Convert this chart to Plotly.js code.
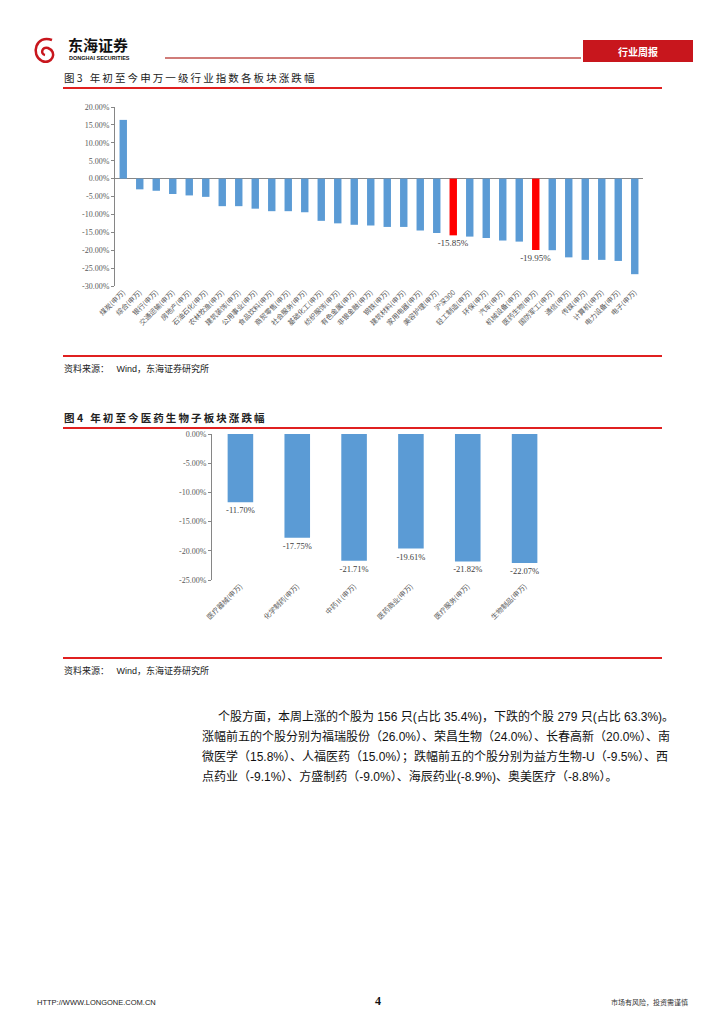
<!DOCTYPE html>
<html>
<head>
<meta charset="utf-8">
<script src="https://cdn.plot.ly/plotly-3.0.1.min.js"></script>
<style>
html,body{margin:0;padding:0;background:#fff;}
#page{width:725px;height:1024px;}
</style>
</head>
<body>
<div id="page"></div>
<script>
// ---------- DATA ----------
const industries = ["煤炭(申万)","综合(申万)","银行(申万)","交通运输(申万)","房地产(申万)","石油石化(申万)","农林牧渔(申万)","建筑装饰(申万)","公用事业(申万)","食品饮料(申万)","商贸零售(申万)","社会服务(申万)","基础化工(申万)","纺织服饰(申万)","有色金属(申万)","非银金融(申万)","钢铁(申万)","建筑材料(申万)","家用电器(申万)","美容护理(申万)","沪深300","轻工制造(申万)","环保(申万)","汽车(申万)","机械设备(申万)","医药生物(申万)","国防军工(申万)","通信(申万)","传媒(申万)","计算机(申万)","电力设备(申万)","电子(申万)"];
const industryChange = [16.4,-3.0,-3.4,-4.3,-4.7,-5.1,-7.7,-7.7,-8.4,-9.1,-9.1,-9.4,-11.8,-12.5,-12.9,-13.1,-13.5,-13.5,-14.5,-15.2,-15.85,-16.2,-16.6,-17.3,-17.6,-19.95,-20.0,-22.0,-22.7,-22.7,-23.0,-26.7];
const highlighted = ["沪深300","医药生物(申万)"];
const fig3Ticks = [20,15,10,5,0,-5,-10,-15,-20,-25,-30];

const pharmaSectors = ["医疗器械(申万)","化学制药(申万)","中药Ⅱ(申万)","医药商业(申万)","医疗服务(申万)","生物制品(申万)"];
const pharmaChange = [-11.70,-17.75,-21.71,-19.61,-21.82,-22.07];
const fig4Ticks = [0,-5,-10,-15,-20,-25];

// ---------- helpers ----------
const W = 725, H = 1024;
const X = px => px / W;
const Y = py => 1 - py / H;
const BLUE = "#5B9BD5", RED = "#FF0000", AX = "#868686", TXT = "#595959";
const CJK = "Noto Sans CJK SC";
const MIX = "Liberation Sans, Noto Sans CJK SC";
const pct = v => v.toFixed(2) + "%";
const spaced = s => s.split("").join("\u2009");

// chart 1 geometry
const y1dom = [Y(286), Y(107)], y1range = [-30, 20];
const zero1 = y1dom[0] + (0 - y1range[0]) / (y1range[1] - y1range[0]) * (y1dom[1] - y1dom[0]);

const traces = [
  {
    type: "bar", x: industries, y: industryChange, xaxis: "x", yaxis: "y",
    marker: {color: industries.map(c => highlighted.includes(c) ? RED : BLUE)},
    text: industries.map((c, i) => highlighted.includes(c) ? pct(industryChange[i]) : ""),
    textposition: "outside", cliponaxis: false, constraintext: "none",
    textfont: {family: "Liberation Serif", size: 9, color: "#404040"},
    hoverinfo: "skip"
  },
  {
    type: "bar", x: pharmaSectors, y: pharmaChange, xaxis: "x2", yaxis: "y2",
    marker: {color: BLUE},
    text: pharmaChange.map(pct),
    textposition: "outside", cliponaxis: false, constraintext: "none",
    textfont: {family: "Liberation Serif", size: 8.5, color: "#404040"},
    hoverinfo: "skip"
  }
];

const shapes = [
  {type:"line", xref:"paper", yref:"paper", x0:X(165), x1:X(581), y0:Y(58), y1:Y(58), line:{color:"#C0504D", width:1.5}},
  {type:"rect", xref:"paper", yref:"paper", x0:X(583), x1:X(693), y0:Y(62), y1:Y(40), fillcolor:"#C8161D", line:{width:0}},
  {type:"path", xref:"paper", yref:"paper",
   path:`M ${X(52)} ${Y(40)} C ${X(36)} ${Y(34)} ${X(30)} ${Y(55)} ${X(42)} ${Y(61)} C ${X(52)} ${Y(65)} ${X(58)} ${Y(52)} ${X(48)} ${Y(48)} C ${X(42)} ${Y(46)} ${X(40)} ${Y(54)} ${X(45)} ${Y(55)}`,
   line:{color:"#C8161D", width:2.5}},
  {type:"line", xref:"paper", yref:"paper", x0:X(63), x1:X(662), y0:Y(88), y1:Y(88), line:{color:"#E02020", width:2}},
  {type:"line", xref:"paper", yref:"paper", x0:X(63), x1:X(662), y0:Y(356), y1:Y(356), line:{color:"#E02020", width:2}},
  {type:"line", xref:"paper", yref:"paper", x0:X(63), x1:X(662), y0:Y(428), y1:Y(428), line:{color:"#E02020", width:2}},
  {type:"line", xref:"paper", yref:"paper", x0:X(63), x1:X(662), y0:Y(658), y1:Y(658), line:{color:"#E02020", width:2}}
];

function ann(text, xpx, ypx, opts) {
  return Object.assign({text, xref:"paper", yref:"paper", x:X(xpx), y:Y(ypx), showarrow:false,
    xanchor:"left", yanchor:"middle", font:{family:CJK, size:10, color:"#000"}}, opts || {});
}

const annotations = [
  ann("<b>东海证券</b>", 66, 44, {font:{family:CJK, size:15, color:"#111"}}),
  ann("<b>DONGHAI SECURITIES</b>", 67, 57.5, {font:{family:"Liberation Sans", size:5.5, color:"#111"}}),
  ann("<b>行业周报</b>", 638, 51, {xanchor:"center", font:{family:CJK, size:10, color:"#fff"}}),
  ann("图 3\u00a0\u00a0\u00a0" + spaced("年初至今申万一级行业指数各板块涨跌幅"), 62, 77, {font:{family:CJK, size:10.5, color:"#222"}}),
  ann("资料来源：\u00a0\u00a0\u00a0Wind，东海证券研究所", 62, 368, {font:{family:MIX, size:9, color:"#222"}}),
  ann("<b>图 4\u00a0\u00a0\u00a0" + spaced("年初至今医药生物子板块涨跌幅") + "</b>", 62, 417, {font:{family:CJK, size:10.5, color:"#222"}}),
  ann("资料来源：\u00a0\u00a0\u00a0Wind，东海证券研究所", 62, 670, {font:{family:MIX, size:9, color:"#222"}}),
  ann("个股方面，本周上涨的个股为 156 只(占比 35.4%)，下跌的个股 279 只(占比 63.3%)。", 216, 716, {font:{family:MIX, size:12, color:"#111"}}),
  ann("涨幅前五的个股分别为福瑞股份（26.0%）、荣昌生物（24.0%）、长春高新（20.0%）、南", 200, 736, {font:{family:MIX, size:12, color:"#111"}}),
  ann("微医学（15.8%）、人福医药（15.0%）；跌幅前五的个股分别为益方生物-U（-9.5%）、西", 200, 756, {font:{family:MIX, size:12, color:"#111"}}),
  ann("点药业（-9.1%）、方盛制药（-9.0%）、海辰药业(-8.9%)、奥美医疗（-8.8%）。", 200, 776, {font:{family:MIX, size:12, color:"#111"}}),
  ann("HTTP://WWW.LONGONE.COM.CN", 35, 1002, {font:{family:"Liberation Sans", size:7.5, color:"#222"}}),
  ann("<b>4</b>", 378, 1001, {xanchor:"center", font:{family:"Liberation Serif", size:12, color:"#111"}}),
  ann("市场有风险，投资需谨慎", 690, 1002, {xanchor:"right", font:{family:CJK, size:7, color:"#333"}})
];

const layout = {
  width: W, height: H,
  margin: {l:0, r:0, t:0, b:0},
  paper_bgcolor: "#fff", plot_bgcolor: "rgba(0,0,0,0)",
  showlegend: false,
  bargap: 0.55,
  xaxis: {domain:[X(115), X(643)], anchor:"y", type:"category", categoryarray: industries,
    tickangle:-45, ticks:"", showline:false, showgrid:false, zeroline:false, automargin:false,
    tickfont:{family:CJK, size:7, color:TXT}},
  yaxis: {domain:y1dom, anchor:"x", range:y1range, tickvals:fig3Ticks, ticktext:fig3Ticks.map(pct),
    showline:true, linecolor:AX, linewidth:1, ticks:"outside", ticklen:3, tickcolor:AX,
    showgrid:false, zeroline:true, zerolinecolor:AX, zerolinewidth:1, automargin:false,
    tickfont:{family:"Liberation Serif", size:8, color:TXT}},
  xaxis3: {overlaying:"x", anchor:"free", position: zero1, range:[-0.5, industries.length - 0.5],
    tick0:-0.5, dtick:1, ticks:"outside", ticklen:3, tickcolor:AX, showticklabels:false,
    showline:true, linecolor:AX, showgrid:false, zeroline:false},
  xaxis2: {domain:[X(212), X(553)], anchor:"y2", type:"category", categoryarray: pharmaSectors,
    tickangle:-45, ticks:"", showline:false, showgrid:false, zeroline:false, automargin:false,
    tickfont:{family:CJK, size:7, color:TXT}},
  yaxis2: {domain:[Y(580), Y(434)], anchor:"x2", range:[-25, 0], tickvals:fig4Ticks, ticktext:fig4Ticks.map(pct),
    showline:true, linecolor:AX, linewidth:1, ticks:"outside", ticklen:3, tickcolor:AX,
    showgrid:false, zeroline:false, automargin:false,
    tickfont:{family:"Liberation Serif", size:8, color:TXT}},
  xaxis4: {overlaying:"x2", anchor:"free", position: Y(434), range:[-0.5, pharmaSectors.length - 0.5],
    tick0:-0.5, dtick:1, ticks:"outside", ticklen:3, tickcolor:AX, showticklabels:false,
    showline:true, linecolor:AX, showgrid:false, zeroline:false},
  shapes, annotations
};

Plotly.newPlot("page", traces, layout, {staticPlot:true, displayModeBar:false});
</script>
</body>
</html>
